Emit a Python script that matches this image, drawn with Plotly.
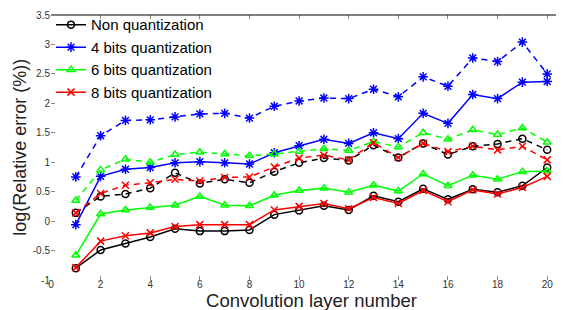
import plotly.graph_objects as go

layers = list(range(1, 21))

non_solid = [-0.80, -0.49, -0.38, -0.27, -0.13, -0.17, -0.17, -0.15, 0.11, 0.18,
             0.26, 0.19, 0.43, 0.33, 0.55, 0.37, 0.54, 0.49, 0.60, 0.91]
non_dashed = [0.14, 0.42, 0.46, 0.56, 0.82, 0.64, 0.71, 0.65, 0.84, 0.99,
              1.07, 1.03, 1.29, 1.08, 1.32, 1.13, 1.27, 1.31, 1.40, 1.21]
b4_solid = [-0.06, 0.76, 0.88, 0.91, 0.99, 1.01, 0.99, 0.97, 1.16, 1.28,
            1.39, 1.32, 1.50, 1.40, 1.83, 1.66, 2.15, 2.08, 2.36, 2.37]
b4_dashed = [0.75, 1.45, 1.71, 1.72, 1.77, 1.82, 1.83, 1.75, 1.95, 2.04,
             2.09, 2.08, 2.24, 2.11, 2.45, 2.29, 2.77, 2.71, 3.04, 2.50]
b6_solid = [-0.58, 0.12, 0.19, 0.23, 0.27, 0.42, 0.27, 0.26, 0.44, 0.52,
            0.56, 0.49, 0.61, 0.51, 0.80, 0.60, 0.78, 0.71, 0.84, 0.85]
b6_dashed = [0.35, 0.87, 1.05, 1.00, 1.13, 1.17, 1.14, 1.11, 1.14, 1.18,
             1.23, 1.20, 1.35, 1.26, 1.50, 1.39, 1.55, 1.47, 1.58, 1.34]
b8_solid = [-0.79, -0.34, -0.25, -0.20, -0.09, -0.06, -0.06, -0.06, 0.19, 0.25,
            0.30, 0.21, 0.40, 0.30, 0.52, 0.33, 0.53, 0.46, 0.57, 0.76]
b8_dashed = [0.14, 0.47, 0.61, 0.65, 0.71, 0.68, 0.74, 0.75, 0.92, 1.07,
             1.12, 1.04, 1.33, 1.08, 1.32, 1.18, 1.27, 1.21, 1.27, 1.04]

series_names = ["Non quantization", "4 bits quantization",
                "6 bits quantization", "8 bits quantization"]

x_title = "Convolution layer number"
y_title = "log(Relative error (%))"

x_ticks = list(range(0, 21, 2))
y_ticks = [-1, -0.5, 0, 0.5, 1, 1.5, 2, 2.5, 3, 3.5]
y_tick_labels = ["-1", "-0.5", "0", "0.5", "1", "1.5", "2", "2.5", "3", "3.5"]

styles = [
    (series_names[0], non_solid, non_dashed, "#000000", "circle-open", 7),
    (series_names[1], b4_solid, b4_dashed, "#0000ff", "asterisk-open", 8),
    (series_names[2], b6_solid, b6_dashed, "#00ff00", "triangle-up-open", 7),
    (series_names[3], b8_solid, b8_dashed, "#ff0000", "x-thin-open", 7),
]

fig = go.Figure()
for name, solid, dashed, color, sym, size in styles:
    fig.add_trace(go.Scatter(
        x=layers, y=solid, name=name, mode="lines+markers",
        line=dict(color=color, width=1.5),
        marker=dict(symbol=sym, size=size, color=color,
                    line=dict(color=color, width=1.5)),
        showlegend=True))
    fig.add_trace(go.Scatter(
        x=layers, y=dashed, name=name + " (dashed)", mode="lines+markers",
        line=dict(color=color, width=1.5, dash="6px,5px"),
        marker=dict(symbol=sym, size=size, color=color,
                    line=dict(color=color, width=1.5)),
        showlegend=False))

font_family = "Liberation Sans, Arial, Helvetica, sans-serif"

fig.update_layout(
    width=564, height=310,
    margin=dict(l=43, r=0, t=4, b=38),
    paper_bgcolor="white", plot_bgcolor="white",
    font=dict(family=font_family, color="#000000"),
    showlegend=True,
    legend=dict(x=0.0, y=1.025, xanchor="left", yanchor="top",
                bgcolor="rgba(255,255,255,0)", borderwidth=0,
                font=dict(size=15, family=font_family, color="#000000"),
                tracegroupgap=0, itemsizing="trace"),
    xaxis=dict(range=[0, 21], tickmode="array", tickvals=x_ticks,
               ticktext=[str(v) for v in x_ticks],
               ticks="inside", ticklen=4, tickwidth=1, tickcolor="#888888",
               mirror="ticks", showline=False, showgrid=False, zeroline=False,
               tickfont=dict(size=10, color="#333333"),
               ticklabelstandoff=-3,
               title=dict(text=x_title, standoff=0,
                          font=dict(size=18.5, color="#222222"))),
    yaxis=dict(range=[-1, 3.5], tickmode="array", tickvals=y_ticks,
               ticktext=y_tick_labels,
               ticks="inside", ticklen=4, tickwidth=1, tickcolor="#888888",
               mirror="ticks", showline=False, showgrid=False, zeroline=False,
               tickfont=dict(size=10, color="#333333")),
    annotations=[dict(text=y_title, xref="paper", yref="paper",
                      x=-0.061, y=0.5, xanchor="center", yanchor="middle",
                      textangle=-90, showarrow=False,
                      font=dict(size=18, color="#222222"))],
    shapes=[dict(type="line", xref="paper", yref="paper", x0=0, x1=1,
                 y0=1, y1=1, line=dict(color="#000000", width=1))],
)

fig.write_html("out.html")
